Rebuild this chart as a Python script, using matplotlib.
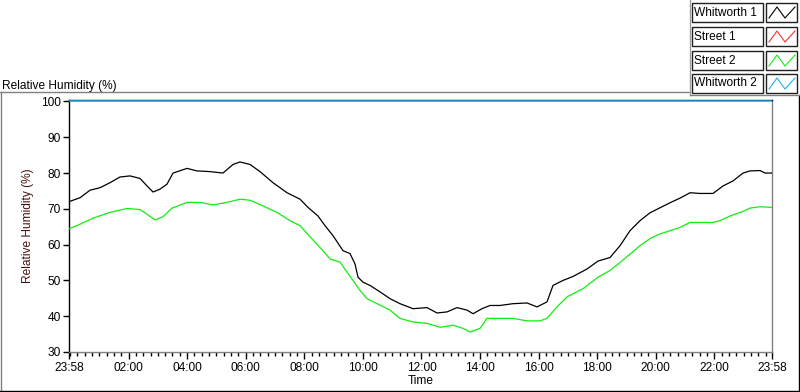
import matplotlib
matplotlib.use("Agg")
import matplotlib.pyplot as plt
from matplotlib.lines import Line2D
from matplotlib.patches import Rectangle
import numpy as np

plt.rcParams['font.family'] = ['Liberation Sans', 'DejaVu Sans']

# elapsed hours since 23:58 (start of record)
w1_t = [0, 0.376, 0.717, 1.058, 1.40, 1.741, 2.083, 2.424, 2.663, 2.868, 3.107, 3.346,
        3.551, 4.029, 4.37, 4.814, 5.258, 5.599, 5.838, 6.18, 6.521, 6.965, 7.443,
        7.887, 8.16, 8.501, 8.74, 9.013, 9.355, 9.594, 9.764, 9.867, 10.038, 10.276,
        10.618, 10.959, 11.301, 11.745, 12.223, 12.564, 12.905, 13.247, 13.588,
        13.793, 14.1, 14.374, 14.715, 15.159, 15.637, 15.978, 16.319, 16.524, 16.866,
        17.207, 17.685, 18.06, 18.47, 18.812, 19.153, 19.495, 19.836, 20.178, 20.519,
        20.861, 21.202, 21.543, 21.987, 22.329, 22.67, 23.011, 23.25, 23.592, 23.762, 24.0]
w1_v = [72, 73.1, 75.2, 75.9, 77.3, 78.9, 79.2, 78.5, 76.4, 74.7, 75.5, 76.9,
        80, 81.3, 80.6, 80.4, 80, 82.4, 83.1, 82.4, 80.4, 77.3, 74.5,
        72.7, 70.4, 68, 65.3, 62.5, 58.3, 57.5, 54.6, 50.9, 49.5, 48.6,
        46.8, 44.9, 43.5, 42.1, 42.4, 40.9, 41.2, 42.4, 41.7,
        40.7, 42.1, 43, 43, 43.5, 43.7, 42.6, 44, 48.6, 50,
        51.1, 53.2, 55.4, 56.4, 59.7, 63.9, 66.7, 68.9, 70.3, 71.7,
        73, 74.5, 74.3, 74.3, 76.4, 77.8, 80, 80.6, 80.7, 80, 80]

s2_t = [0, 0.376, 0.82, 1.40, 1.98, 2.424, 2.663, 2.936, 3.209, 3.517, 4.029, 4.473,
        4.916, 5.394, 5.838, 6.18, 6.623, 7.101, 7.545, 7.887, 8.228, 8.672, 8.911,
        9.252, 9.491, 9.696, 9.935, 10.174, 10.516, 10.959, 11.301, 11.745, 12.223,
        12.666, 13.11, 13.452, 13.691, 14.032, 14.271, 14.715, 15.159, 15.637, 16.08,
        16.319, 16.661, 17.002, 17.548, 18.06, 18.47, 18.812, 19.495, 19.836, 20.178,
        20.519, 20.861, 21.202, 21.543, 21.987, 22.226, 22.567, 23.011, 23.25, 23.592, 24.0]
s2_v = [64.4, 65.7, 67.4, 69, 70.1, 69.8, 68.5, 66.9, 67.8, 70.2, 71.8, 71.8,
        71.1, 71.8, 72.7, 72.4, 70.8, 69, 66.7, 65.3, 62.2, 58.3, 56,
        55.1, 52.3, 50, 47.2, 44.9, 43.5, 41.7, 39.4, 38.4, 38,
        36.9, 37.5, 36.6, 35.6, 36.6, 39.4, 39.4, 39.4, 38.7, 38.7,
        39.4, 42.6, 45.4, 47.7, 50.9, 52.8, 55, 59.7, 61.7, 63,
        63.9, 64.8, 66.2, 66.2, 66.2, 66.7, 68, 69.3, 70.2, 70.6, 70.4]

w2_t = [0, 24.0]
w2_v = [100, 100]

series_names = ["Whitworth 1", "Street 1", "Street 2", "Whitworth 2"]
series_colors = ["#000000", "#ff3030", "#10ee10", "#20b0f0"]

tick_labels = ["23:58", "02:00", "04:00", "06:00", "08:00", "10:00", "12:00",
               "14:00", "16:00", "18:00", "20:00", "22:00", "23:58"]
tick_pos = [0] + [2 + 2/60 + 2*k for k in range(11)] + [24]
minor_pos = [2/60 + 0.25*k for k in range(96)]

W, H = 800, 392
fig = plt.figure(figsize=(W/100, H/100), dpi=100)
fig.patch.set_facecolor('white')

def fx(px): return px / W
def fy(py): return 1 - py / H

ax = fig.add_axes([fx(69), fy(352), fx(772) - fx(69), fy(99.5) - fy(352)])
ax.set_xlim(0, 24)
ax.set_ylim(30, 100.55)

ax.plot(w2_t, w2_v, color=series_colors[3], lw=1.1, zorder=3)
ax.plot(w1_t, w1_v, color=series_colors[0], lw=0.9, zorder=4)
ax.plot(s2_t, s2_v, color=series_colors[2], lw=0.9, zorder=4)

ax.set_yticks(range(30, 101, 10))
ax.set_xticks(tick_pos)
ax.set_xticklabels(tick_labels)
ax.set_xticks(minor_pos, minor=True)
ax.tick_params(axis='both', which='major', labelsize=8.6, color='black', width=1, length=5, pad=2)
ax.tick_params(axis='x', which='minor', color='black', width=1, length=3)
ax.tick_params(axis='y', which='major', length=4, pad=2)
for s in ['left', 'top']:
    ax.spines[s].set_color('black')
for s in ['right', 'bottom']:
    ax.spines[s].set_color('#808080')
for s in ax.spines.values():
    s.set_linewidth(1)

ax.set_xlabel("Time", fontsize=8.6, labelpad=1)
ax.set_ylabel("Relative Humidity (%)", fontsize=8.6, color='#4a1010', labelpad=5)

# Title
fig.text(fx(2), fy(88.5), "Relative Humidity (%)", fontsize=8.6, ha='left', va='baseline')

# frame lines
def hline(x0, x1, y, c):
    fig.add_artist(Line2D([fx(x0), fx(x1)], [fy(y), fy(y)], color=c, lw=1))
def vline(x, y0, y1, c):
    fig.add_artist(Line2D([fx(x), fx(x)], [fy(y0), fy(y1)], color=c, lw=1))

hline(0, 690, 92, '#808080')
vline(0.5, 92, 392, '#808080')
hline(0, 800, 391, '#000000')
vline(799, 95, 392, '#000000')
vline(690, 0, 95, '#a0a0a0')
hline(690, 800, 95, '#808080')

# legend
tops = [3, 27, 51, 74]
for name, col, top in zip(series_names, series_colors, tops):
    fig.add_artist(Rectangle((fx(692), fy(top + 19)), fx(763) - fx(692), fy(top) - fy(top + 19),
                             facecolor='white', edgecolor='#202020', lw=1))
    fig.text(fx(694), fy(top + 9.5), name, fontsize=8.6, ha='left', va='center')
    fig.add_artist(Rectangle((fx(766), fy(top + 19)), fx(797) - fx(766), fy(top) - fy(top + 19),
                             facecolor='white', edgecolor='#202020', lw=1))
    xs = [769, 777, 785, 795]
    ys = [top + 15, top + 4, top + 15, top + 4]
    fig.add_artist(Line2D([fx(v) for v in xs], [fy(v) for v in ys], color=col, lw=0.8))

fig.savefig("out.png", dpi=100)
